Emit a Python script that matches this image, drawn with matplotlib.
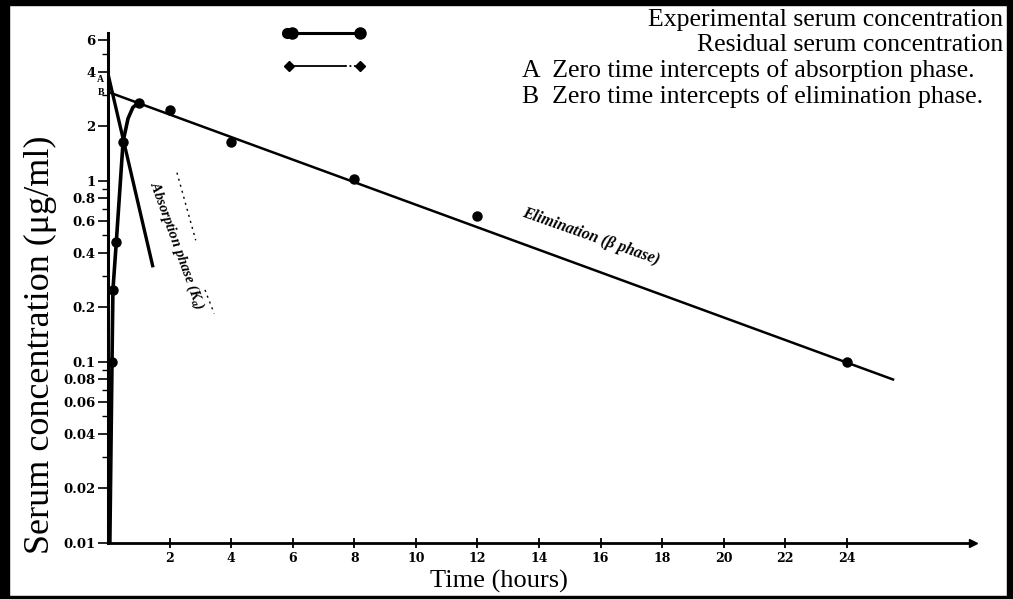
import matplotlib
matplotlib.use('Agg')
import matplotlib.pyplot as plt
from matplotlib.lines import Line2D
from matplotlib.patches import Rectangle

plt.rcParams['font.family'] = ['Liberation Serif', 'DejaVu Serif']
plt.rcParams['mathtext.fontset'] = 'custom'
plt.rcParams['mathtext.it'] = 'Liberation Serif:italic:bold'
plt.rcParams['mathtext.rm'] = 'Liberation Serif'

# ---- data ----
exp_t = [0.13, 0.16, 0.27, 0.49, 1.0, 2.0, 4.0, 8.0, 12.0, 24.0]
exp_c = [0.10, 0.25, 0.46, 1.65, 2.70, 2.45, 1.65, 1.03, 0.64, 0.10]

# rising part of the experimental curve (traced)
rise_t = [0.06, 0.13, 0.16, 0.27, 0.49, 0.65, 0.81, 1.0]
rise_c = [0.01, 0.10, 0.25, 0.46, 1.65, 2.21, 2.55, 2.70]

# elimination (beta phase) line, back-extrapolated to zero time (B)
elim_t = [0.0, 25.5]
elim_c = [3.1, 0.08]

# residual / absorption line, zero-time intercept A
res_t = [0.0, 1.45]
res_c = [3.9, 0.34]

xticks = [2, 4, 6, 8, 10, 12, 14, 16, 18, 20, 22, 24]
xtick_labels = ['2', '4', '6', '8', '10', '12', '14', '16', '18', '20', '22', '24']
yticks = [6, 4, 2, 1, 0.8, 0.6, 0.4, 0.2, 0.1, 0.08, 0.06, 0.04, 0.02, 0.01]
ytick_labels = ['6', '4', '2', '1', '0.8', '0.6', '0.4', '0.2', '0.1', '0.08',
                '0.06', '0.04', '0.02', '0.01']
yminor = [3, 5, 0.3, 0.5, 0.7, 0.9, 0.03, 0.05, 0.07, 0.09]

legend_texts = ['Experimental serum concentration',
                'Residual serum concentration',
                'A  Zero time intercepts of absorption phase.',
                'B  Zero time intercepts of elimination phase.']

W, H = 1013, 599
fig = plt.figure(figsize=(W / 100, H / 100), dpi=100)
fig.patch.set_facecolor('white')

def fx(px):
    return px / W

def fy(py):
    return 1 - py / H

ax = fig.add_axes([fx(108), fy(543), (970 - 108) / W, (543 - 33) / H])
ax.set_yscale('log')
ax.set_xlim(0, 28)
ax.set_ylim(0.01, 6.56)
ax.set_facecolor('white')

for s in ['top', 'right']:
    ax.spines[s].set_visible(False)
ax.spines['left'].set_linewidth(2.2)
ax.spines['bottom'].set_linewidth(2.0)

# arrow at end of x axis
ax.plot([1.003], [0.0], marker='>', color='black', markersize=6,
        transform=ax.transAxes, clip_on=False)

ax.set_xticks(xticks)
ax.set_xticklabels(xtick_labels, family='DejaVu Serif', fontweight='bold',
                   fontsize=9)
ax.tick_params(axis='x', direction='inout', length=7, width=1.3, pad=3)

ax.set_yticks(yticks)
ax.set_yticklabels(ytick_labels, family='DejaVu Serif', fontweight='bold',
                   fontsize=9.5)
ax.set_yticks(yminor, minor=True)
ax.tick_params(axis='y', which='major', direction='out', length=7, width=1.2, pad=2)
ax.tick_params(axis='y', which='minor', direction='out', length=4, width=1.0,
               labelleft=False)

ax.set_ylabel('Serum concentration (μg/ml)', fontsize=26)
ax.yaxis.set_label_coords(-0.059, 0.388)
ax.set_xlabel('Time (hours)', fontsize=19)
ax.xaxis.set_label_coords(0.4536, -0.052)

# lines
ax.plot(rise_t, rise_c, color='black', lw=2.6, solid_capstyle='round')
ax.plot(elim_t, elim_c, color='black', lw=1.8)
ax.plot(res_t, res_c, color='black', lw=2.4)
ax.plot(exp_t, exp_c, linestyle='none', marker='o', color='black',
        markersize=6.5)

# dotted guide next to absorption label
ax.plot([2.24, 2.85], [1.11, 0.47], color='black', lw=1.0, ls=(0, (1.5, 3)))
ax.plot([3.15, 3.45], [0.25, 0.185], color='black', lw=1.0, ls=(0, (1.5, 3)))

# annotations
ax.text(2.22, 0.44, 'Absorption phase (K$_a$)', rotation=-70, fontsize=10.5,
        fontstyle='italic', fontweight='bold', ha='center', va='center',
        rotation_mode='anchor')
ax.text(15.7, 0.495, 'Elimination (β phase)', rotation=-19.5, fontsize=11.5,
        fontstyle='italic', fontweight='bold', ha='center', va='center',
        rotation_mode='anchor')
fig.text(fx(100), fy(79), 'A', fontsize=7, fontweight='bold', ha='center',
         va='center')
fig.text(fx(101), fy(92), 'B', fontsize=7, fontweight='bold', ha='center',
         va='center')

# legend keys
fig.add_artist(Line2D([fx(292), fx(360)], [fy(33), fy(33)], color='black', lw=2.2))
fig.add_artist(Line2D([fx(292)], [fy(33)], marker='o', markersize=9,
                      color='black', markeredgewidth=0))
fig.add_artist(Line2D([fx(287)], [fy(33)], marker='o', markersize=8,
                      color='black', markeredgewidth=0))
fig.add_artist(Line2D([fx(360)], [fy(33)], marker='o', markersize=9,
                      color='black', markeredgewidth=0))
fig.add_artist(Line2D([fx(289), fx(345)], [fy(66), fy(66)], color='black', lw=1.3))
fig.add_artist(Line2D([fx(345), fx(358)], [fy(66), fy(66)], color='black', lw=1.3,
                      ls=(0, (1, 1.5))))
fig.add_artist(Line2D([fx(289), fx(360)], [fy(66), fy(66)], marker='D',
                      markersize=5, color='black', ls='none'))

# legend texts
leg_x = [1003, 1003, 975, 983]
leg_y = [20, 45, 71, 97]
for t, x, y in zip(legend_texts, leg_x, leg_y):
    fig.text(fx(x), fy(y), t, fontsize=18.5, ha='right', va='center')

# scanned page border
fig.add_artist(Rectangle((0, 0), fx(9), 1, transform=fig.transFigure,
                         color='black', zorder=10))
fig.add_artist(Rectangle((0, fy(5)), 1, 5 / H, transform=fig.transFigure,
                         color='black', zorder=10))
fig.add_artist(Rectangle((fx(1007), 0), 6 / W, 1, transform=fig.transFigure,
                         color='black', zorder=10))
fig.add_artist(Rectangle((0, 0), 1, 3 / H, transform=fig.transFigure,
                         color='black', zorder=10))

fig.savefig('out.png', dpi=100, facecolor='white')
